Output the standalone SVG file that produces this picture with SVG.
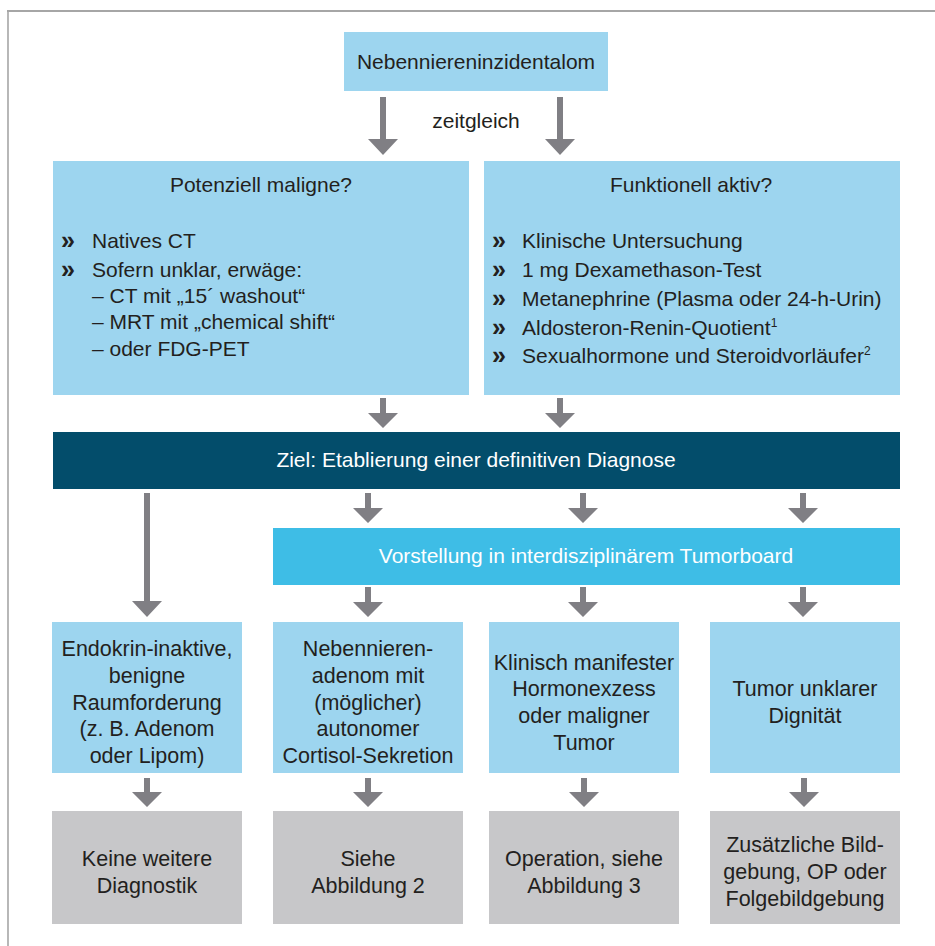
<svg xmlns="http://www.w3.org/2000/svg" width="935" height="946" viewBox="0 0 935 946">
<style>
text{font-family:"Liberation Sans",Arial,Helvetica,sans-serif;fill:#231f20;}
.t{font-size:21px;}
.b{font-size:21.5px;text-anchor:middle;}
.c{text-anchor:middle;}
.w{fill:#ffffff;}
.lb{fill:#9dd5ef;}
.gr{fill:#c7c7c9;}
.ar{fill:#807f84;}
.bul{font-weight:bold;font-size:25px;}
.sup{font-size:12px;}
</style>
<rect width="935" height="946" fill="#ffffff"/>
<g id="frame">
<line x1="7" y1="11" x2="935" y2="11" stroke="#a6a6a6" stroke-width="2"/>
<line x1="8" y1="10" x2="8" y2="946" stroke="#a6a6a6" stroke-width="1.6"/>
</g>
<g id="connectors">
<path class="ar" d="M380,97H386V139H398L383,155L368,139H380Z"/>
<path class="ar" d="M557,97H563V139H575L560,155L545,139H557Z"/>
<text class="t c" x="476" y="128">zeitgleich</text>
<path class="ar" d="M380,398H386V413H398L383,428L368,413H380Z"/>
<path class="ar" d="M557,398H563V413H575L560,428L545,413H557Z"/>
<path class="ar" d="M144,493H150V601H162L147,617L132,601H144Z"/>
<path class="ar" d="M365,493H371V508H383L368,523L353,508H365Z"/>
<path class="ar" d="M580,493H586V508H598L583,523L568,508H580Z"/>
<path class="ar" d="M800,493H806V508H818L803,523L788,508H800Z"/>
<path class="ar" d="M365,587H371V602H383L368,617L353,602H365Z"/>
<path class="ar" d="M580,587H586V602H598L583,617L568,602H580Z"/>
<path class="ar" d="M800,587H806V602H818L803,617L788,602H800Z"/>
<path class="ar" d="M144,778H150V792H162L147,807L132,792H144Z"/>
<path class="ar" d="M365,778H371V792H383L368,807L353,792H365Z"/>
<path class="ar" d="M581,778H587V792H599L584,807L569,792H581Z"/>
<path class="ar" d="M801,778H807V792H819L804,807L789,792H801Z"/>
</g>
<g id="start">
<rect class="lb" x="344" y="32" width="264" height="59"/>
<text class="t c" x="476" y="69">Nebenniereninzidentalom</text>
</g>
<g id="maligne">
<rect class="lb" x="53" y="161" width="416" height="234"/>
<text class="t c" x="261" y="192">Potenziell maligne?</text>
<text class="bul" x="61" y="249">»</text>
<text class="t" x="92" y="248">Natives CT</text>
<text class="bul" x="61" y="278">»</text>
<text class="t" x="92" y="277">Sofern unklar, erwäge:</text>
<text class="t" x="92" y="303">– CT mit „15´ washout“</text>
<text class="t" x="92" y="329">– MRT mit „chemical shift“</text>
<text class="t" x="92" y="356">– oder FDG-PET</text>
</g>
<g id="aktiv">
<rect class="lb" x="484" y="161" width="416" height="234"/>
<text class="t c" x="691" y="192">Funktionell aktiv?</text>
<text class="bul" x="492" y="249">»</text>
<text class="t" x="522" y="248">Klinische Untersuchung</text>
<text class="bul" x="492" y="278">»</text>
<text class="t" x="522" y="277">1 mg Dexamethason-Test</text>
<text class="bul" x="492" y="307">»</text>
<text class="t" x="522" y="306">Metanephrine (Plasma oder 24-h-Urin)</text>
<text class="bul" x="492" y="336">»</text>
<text class="t" x="522" y="335">Aldosteron-Renin-Quotient<tspan class="sup" dy="-8">1</tspan></text>
<text class="bul" x="492" y="364">»</text>
<text class="t" x="522" y="363">Sexualhormone und Steroidvorläufer<tspan class="sup" dy="-8">2</tspan></text>
</g>
<g id="ziel">
<rect x="53" y="432" width="847" height="57" fill="#034d6b"/>
<text class="t c w" x="476" y="467">Ziel: Etablierung einer definitiven Diagnose</text>
</g>
<g id="tumorboard">
<rect x="273" y="528" width="627" height="57" fill="#3ebde6"/>
<text class="t c w" x="586" y="563">Vorstellung in interdisziplinärem Tumorboard</text>
</g>
<g id="inaktiv">
<rect class="lb" x="52" y="622" width="190" height="151"/>
<text class="b" x="147" y="656">Endokrin-inaktive,</text>
<text class="b" x="147" y="683">benigne</text>
<text class="b" x="147" y="710">Raumforderung</text>
<text class="b" x="147" y="736">(z. B. Adenom</text>
<text class="b" x="147" y="763">oder Lipom)</text>
</g>
<g id="adenom">
<rect class="lb" x="273" y="622" width="190" height="151"/>
<text class="b" x="368" y="656">Nebennieren-</text>
<text class="b" x="368" y="683">adenom mit</text>
<text class="b" x="368" y="710">(möglicher)</text>
<text class="b" x="368" y="736">autonomer</text>
<text class="b" x="368" y="763">Cortisol-Sekretion</text>
</g>
<g id="manifest">
<rect class="lb" x="489" y="622" width="190" height="151"/>
<text class="b" x="584" y="670">Klinisch manifester</text>
<text class="b" x="584" y="696">Hormonexzess</text>
<text class="b" x="584" y="723">oder maligner</text>
<text class="b" x="584" y="750">Tumor</text>
</g>
<g id="unklar">
<rect class="lb" x="710" y="622" width="190" height="151"/>
<text class="b" x="805" y="696">Tumor unklarer</text>
<text class="b" x="805" y="723">Dignität</text>
</g>
<g id="keine">
<rect class="gr" x="52" y="811" width="190" height="113"/>
<text class="b" x="147" y="866">Keine weitere</text>
<text class="b" x="147" y="893">Diagnostik</text>
</g>
<g id="abb2">
<rect class="gr" x="273" y="811" width="190" height="113"/>
<text class="b" x="368" y="866">Siehe</text>
<text class="b" x="368" y="893">Abbildung 2</text>
</g>
<g id="abb3">
<rect class="gr" x="489" y="811" width="190" height="113"/>
<text class="b" x="584" y="866">Operation, siehe</text>
<text class="b" x="584" y="893">Abbildung 3</text>
</g>
<g id="bildgebung">
<rect class="gr" x="710" y="811" width="190" height="113"/>
<text class="b" x="805" y="852">Zusätzliche Bild-</text>
<text class="b" x="805" y="879">gebung, OP oder</text>
<text class="b" x="805" y="906">Folgebildgebung</text>
</g>
</svg>
